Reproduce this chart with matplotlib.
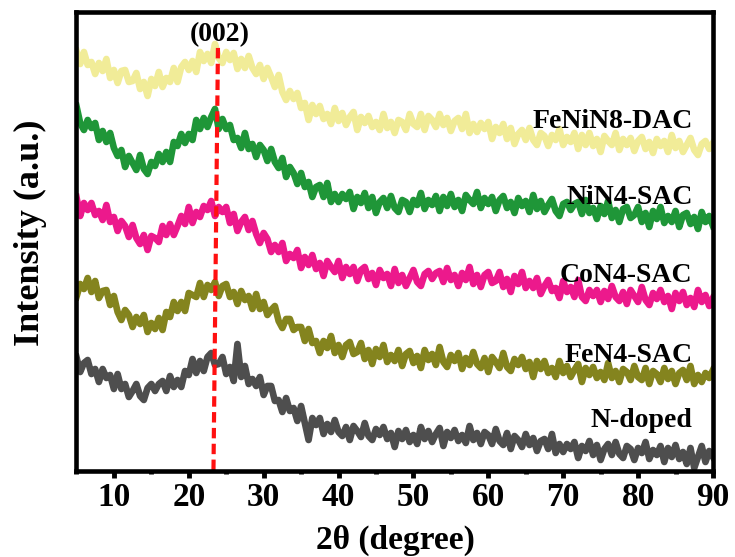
import numpy as np
import matplotlib
matplotlib.use("Agg")
import matplotlib.pyplot as plt

plt.rcParams['font.family'] = ['Liberation Serif', 'DejaVu Serif']
plt.rcParams['font.weight'] = 'bold'

# 2theta grid, 0.5 degree steps from 5 to 90
two_theta = np.arange(5.0, 90.01, 0.5)

# intensities (arbitrary units, offset stacks)
fenin8_dac = [419, 406, 418, 405, 408, 396, 407, 399, 411, 392,
              400, 387, 399, 400, 388, 389, 397, 381, 388, 374,
              391, 384, 398, 383, 392, 388, 402, 388, 403, 408,
              400, 409, 398, 418, 409, 416, 407, 426, 412, 407,
              418, 410, 417, 401, 411, 402, 414, 402, 396, 405,
              391, 402, 393, 383, 395, 378, 370, 379, 371, 377,
              362, 367, 350, 365, 356, 364, 351, 356, 346, 362,
              349, 357, 345, 353, 358, 340, 353, 347, 354, 343,
              348, 340, 356, 342, 348, 337, 350, 348, 340, 356,
              346, 343, 356, 340, 354, 350, 343, 356, 345, 352,
              339, 349, 352, 341, 356, 337, 346, 338, 347, 341,
              348, 331, 343, 337, 346, 331, 342, 326, 336, 340,
              330, 342, 330, 325, 337, 334, 324, 335, 330, 341,
              325, 333, 328, 337, 321, 335, 325, 337, 324, 331,
              318, 334, 329, 325, 337, 320, 331, 325, 332, 319,
              329, 333, 321, 328, 317, 331, 324, 329, 318, 335,
              322, 329, 318, 325, 332, 320, 315, 326, 329, 321,
              327]
nin4_sac = [364, 347, 340, 350, 342, 347, 330, 339, 328, 337,
            322, 314, 320, 303, 314, 307, 300, 315, 301, 296,
            308, 304, 316, 308, 318, 308, 328, 324, 336, 327,
            336, 330, 350, 341, 352, 343, 353, 361, 341, 351,
            341, 345, 330, 332, 322, 337, 321, 326, 313, 325,
            320, 309, 321, 308, 302, 312, 293, 303, 297, 286,
            297, 283, 288, 273, 283, 285, 273, 287, 268, 276,
            268, 276, 271, 278, 261, 273, 267, 277, 262, 273,
            257, 268, 272, 262, 274, 262, 258, 270, 268, 258,
            270, 265, 277, 261, 270, 265, 274, 259, 273, 264,
            276, 263, 270, 259, 275, 270, 266, 278, 262, 272,
            266, 273, 259, 270, 274, 262, 268, 257, 272, 264,
            269, 258, 275, 261, 269, 258, 265, 271, 259, 254,
            266, 268, 260, 266, 268, 256, 270, 257, 262, 251,
            264, 256, 269, 252, 260, 248, 261, 263, 252, 255,
            263, 248, 257, 243, 259, 251, 263, 247, 254, 248,
            259, 243, 255, 257, 246, 253, 241, 258, 248, 254,
            244]
con4_sac = [273, 254, 267, 260, 267, 255, 259, 250, 265, 248,
            253, 239, 249, 244, 233, 245, 232, 226, 235, 220,
            234, 232, 228, 244, 235, 246, 235, 244, 254, 246,
            263, 247, 258, 253, 264, 260, 269, 254, 263, 258,
            263, 247, 256, 239, 248, 253, 240, 249, 236, 227,
            237, 231, 218, 225, 218, 227, 209, 216, 212, 220,
            202, 213, 205, 215, 201, 207, 194, 209, 203, 198,
            209, 192, 203, 196, 203, 189, 200, 203, 191, 197,
            185, 200, 192, 196, 184, 201, 187, 195, 184, 192,
            200, 188, 184, 196, 199, 191, 197, 199, 188, 202,
            190, 195, 184, 197, 190, 203, 186, 195, 183, 195,
            198, 187, 189, 198, 183, 191, 178, 194, 186, 198,
            182, 189, 182, 192, 176, 184, 190, 179, 182, 172,
            189, 178, 183, 173, 190, 173, 169, 180, 174, 180,
            168, 179, 171, 184, 173, 169, 178, 166, 180, 174,
            168, 183, 170, 165, 177, 171, 180, 168, 174, 161,
            177, 169, 178, 165, 172, 163, 180, 168, 175, 164,
            172]
fen4_sac = [173, 186, 181, 192, 178, 189, 172, 179, 180, 165,
            174, 158, 150, 160, 155, 143, 153, 146, 155, 138,
            147, 141, 152, 140, 158, 153, 168, 159, 168, 159,
            177, 175, 173, 187, 173, 185, 180, 188, 174, 184,
            186, 173, 178, 166, 179, 170, 174, 161, 176, 161,
            168, 155, 160, 164, 149, 142, 151, 151, 140, 143,
            143, 129, 141, 127, 129, 117, 129, 122, 134, 117,
            125, 113, 125, 128, 116, 118, 127, 111, 120, 106,
            121, 113, 125, 108, 115, 109, 120, 104, 116, 119,
            107, 114, 102, 120, 110, 116, 105, 123, 108, 103,
            115, 109, 117, 101, 112, 105, 118, 106, 102, 112,
            98, 113, 108, 102, 117, 103, 99, 111, 105, 113,
            101, 108, 93, 109, 101, 109, 97, 102, 93, 109,
            97, 104, 93, 100, 106, 88, 102, 95, 103, 92,
            98, 90, 107, 92, 99, 88, 101, 98, 90, 104,
            93, 90, 102, 86, 99, 96, 88, 102, 91, 99,
            86, 97, 100, 90, 104, 86, 95, 88, 97, 92,
            100]
n_doped = [113, 98, 107, 110, 96, 101, 88, 101, 92, 95,
           81, 96, 81, 86, 73, 79, 86, 74, 70, 82,
           86, 79, 86, 89, 79, 94, 83, 90, 83, 99,
           95, 111, 97, 109, 99, 113, 117, 105, 106, 113,
           96, 103, 89, 126, 93, 104, 86, 91, 84, 93,
           75, 84, 84, 69, 70, 58, 72, 59, 62, 49,
           64, 47, 30, 52, 45, 52, 36, 46, 38, 50,
           38, 34, 43, 30, 44, 39, 33, 47, 34, 30,
           41, 35, 43, 31, 37, 23, 39, 31, 40, 28,
           35, 26, 43, 31, 39, 28, 36, 42, 24, 38,
           32, 40, 29, 35, 27, 44, 30, 37, 26, 38,
           35, 26, 41, 29, 25, 37, 21, 34, 30, 23,
           36, 25, 32, 19, 29, 31, 21, 36, 17, 26,
           18, 26, 21, 28, 12, 24, 19, 29, 15, 25,
           10, 21, 26, 15, 28, 16, 12, 24, 21, 10,
           22, 17, 28, 11, 20, 15, 24, 8, 22, 13,
           25, 11, 18, 6, 22, 2, 13, 24, 8, 19,
           13]

series = [fenin8_dac, nin4_sac, con4_sac, fen4_sac, n_doped]
names = ['FeNiN8-DAC', 'NiN4-SAC', 'CoN4-SAC', 'FeN4-SAC', 'N-doped']
colors = ['#F1EC98', '#1F9638', '#EC198C', '#84841E', '#4E4E4E']

# (002) reference line
peak_x = [23.3, 23.9]
peak_y = [0, 425]

fig = plt.figure(figsize=(7.35, 5.57), dpi=100)
ax = fig.add_axes([0.104, 0.1544, 0.866, 0.8232])

for ys, c in zip(series, colors):
    ax.plot(two_theta, ys, color=c, lw=4.8, solid_joinstyle='round')

ax.plot(peak_x, peak_y, color='#FF1010', lw=3, linestyle=(0, (2.5, 1.3)))
ax.text(24.2, 429, '(002)', ha='center', va='baseline', fontsize=20, fontweight='bold')

label_y = [342, 266, 188, 108, 43]
for name, ly in zip(names, label_y):
    ax.text(87.3, ly, name, ha='right', va='baseline', fontsize=20, fontweight='bold')

ax.set_xlim(5, 90)
ax.set_ylim(-1, 457.5)
ax.set_xticks(range(10, 91, 10))
ax.set_xticks(range(5, 90, 10), minor=True)
ax.set_yticks([])
ax.tick_params(axis='x', which='major', direction='out', length=5, width=3.5,
               labelsize=24, pad=3)
ax.tick_params(axis='x', which='minor', direction='out', length=2.5, width=3.5)
for s in ax.spines.values():
    s.set_linewidth(3.3)

fig.text(395 / 735, 1 - 540 / 557, '2θ (degree)', ha='center', va='center',
         fontsize=24, fontweight='bold')
fig.text(30 / 735, 1 - 233 / 557, 'Intensity (a.u.)', rotation=90, ha='center',
         va='center', fontsize=26, fontweight='bold')

fig.savefig('out.png', dpi=100)
